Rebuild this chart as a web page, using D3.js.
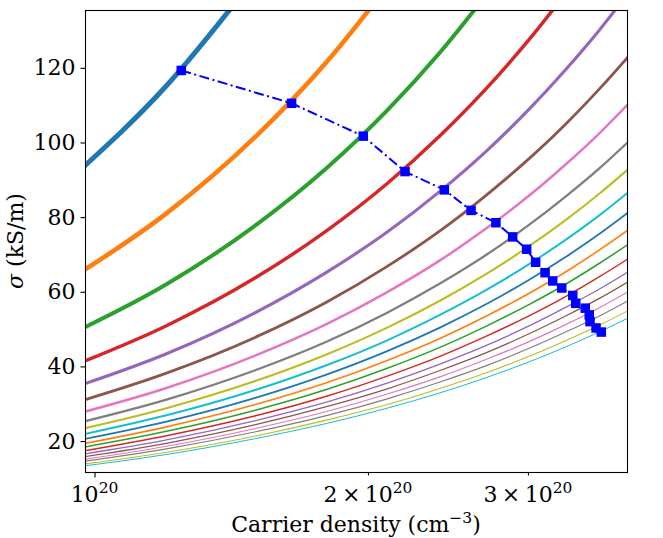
<!DOCTYPE html>
<html><head><meta charset="utf-8">
<script src="https://cdn.jsdelivr.net/npm/d3@7"></script>
<style>
body{margin:0;background:#fff}
text{font-family:"DejaVu Serif",serif}
</style>
</head><body>
<svg id="chart" width="663" height="538"></svg>
<script>
// carrier density grid (units of 1e20 cm^-3) at which each curve was read
const nGrid = [0.95, 1.2, 1.5, 1.8, 2.1, 2.4, 2.7, 3.0, 3.3, 3.6, 3.9];

// conductivity curves (kS/m) at the nGrid points
const curve01 = [91.2, 115.2, 144.0];
const curve02 = [64.1, 81.0, 101.3, 121.5, 141.8];
const curve03 = [49.1, 62.0, 77.6, 93.1, 108.6, 124.1, 139.6];
const curve04 = [40.3, 50.9, 63.6, 76.3, 89.0, 101.8, 114.5, 127.2, 139.9];
const curve05 = [34.4, 43.4, 54.3, 65.2, 76.0, 86.9, 97.7, 108.6, 119.5, 130.3, 141.2];
const curve06 = [30.2, 38.2, 47.7, 57.2, 66.8, 76.3, 85.9, 95.4, 104.9, 114.5, 124.0];
const curve07 = [27.1, 34.2, 42.8, 51.3, 59.9, 68.4, 77.0, 85.5, 94.1, 102.6, 111.2];
const curve08 = [24.6, 31.1, 38.9, 46.6, 54.4, 62.2, 69.9, 77.7, 85.5, 93.2, 101.0];
const curve09 = [22.8, 28.8, 36.0, 43.2, 50.4, 57.6, 64.8, 72.0, 79.2, 86.4, 93.6];
const curve10 = [21.3, 26.9, 33.6, 40.3, 47.0, 53.8, 60.5, 67.2, 73.9, 80.6, 87.4];
const curve11 = [20.0, 25.2, 31.5, 37.8, 44.1, 50.4, 56.7, 63.0, 69.3, 75.6, 81.9];
const curve12 = [18.8, 23.8, 29.7, 35.6, 41.6, 47.5, 53.5, 59.4, 65.3, 71.3, 77.2];
const curve13 = [17.9, 22.6, 28.2, 33.8, 39.5, 45.1, 50.8, 56.4, 62.0, 67.7, 73.3];
const curve14 = [16.9, 21.4, 26.7, 32.0, 37.4, 42.7, 48.1, 53.4, 58.7, 64.1, 69.4];
const curve15 = [16.1, 20.3, 25.4, 30.4, 35.5, 40.6, 45.6, 50.7, 55.8, 60.8, 65.9];
const curve16 = [15.4, 19.4, 24.3, 29.2, 34.0, 38.9, 43.7, 48.6, 53.5, 58.3, 63.2];
const curve17 = [14.7, 18.6, 23.3, 27.9, 32.6, 37.2, 41.9, 46.5, 51.2, 55.8, 60.5];
const curve18 = [14.2, 17.9, 22.4, 26.8, 31.3, 35.8, 40.2, 44.7, 49.2, 53.6, 58.1];
const curve19 = [13.5, 17.0, 21.3, 25.6, 29.8, 34.1, 38.3, 42.6, 46.9, 51.1, 55.4];
const curve20 = [13.0, 16.4, 20.6, 24.7, 28.8, 32.9, 37.0, 41.1, 45.2, 49.3, 53.4];
const curves = [curve01, curve02, curve03, curve04, curve05, curve06, curve07, curve08, curve09, curve10,
                curve11, curve12, curve13, curve14, curve15, curve16, curve17, curve18, curve19, curve20];

// highlighted points (blue squares, dash-dot)
const markerN = [1.246, 1.648, 1.976, 2.197, 2.427, 2.597, 2.766, 2.886, 2.990, 3.059,
                 3.133, 3.194, 3.268, 3.361, 3.386, 3.469, 3.504, 3.511, 3.565, 3.613];
const markerSigma = [119.3, 110.5, 101.7, 92.2, 87.3, 81.8, 78.5, 74.7, 71.4, 67.9,
                     65.1, 62.9, 61.0, 59.0, 56.9, 55.6, 53.8, 52.0, 50.3, 49.2];

// ticks
const yTicks = [20, 40, 60, 80, 100, 120];
const xTicks = [1, 2, 3];            // ×1e20
const xTickMantissa = ["", "2", "3"];

// styling (not data)
const palette = ["#1f77b4","#ff7f0e","#2ca02c","#d62728","#9467bd","#8c564b","#e377c2","#7f7f7f","#bcbd22","#17becf"];
const widths = [5.0, 4.6, 4.0, 3.5, 3.1, 2.8, 2.5, 2.3, 2.1, 1.95, 1.8, 1.65, 1.55, 1.45, 1.35, 1.27, 1.2, 1.13, 1.07, 1.0];

const svg = d3.select("#chart");
const L = 85, R = 627, T = 10, B = 472;
const x = d3.scaleLog().domain([0.9762, 3.856]).range([L, R]);
const y = d3.scaleLinear().domain([11.7, 135.5]).range([B, T]);

svg.append("defs").append("clipPath").attr("id", "clip")
  .append("rect").attr("x", L).attr("y", T).attr("width", R - L).attr("height", B - T);

const plot = svg.append("g").attr("clip-path", "url(#clip)");
const line = d3.line().x(d => x(d[0])).y(d => y(d[1])).curve(d3.curveMonotoneX);

curves.forEach((c, i) => {
  const pts = c.map((v, j) => [nGrid[j], v]);
  plot.append("path").attr("d", line(pts)).attr("fill", "none")
    .attr("stroke", palette[i % 10]).attr("stroke-width", widths[i]);
});

const mpts = markerN.map((n, i) => [n, markerSigma[i]]);
plot.append("path")
  .attr("d", d3.line().x(d => x(d[0])).y(d => y(d[1]))(mpts))
  .attr("fill", "none").attr("stroke", "#0000ff").attr("stroke-width", 2)
  .attr("stroke-dasharray", "10,3.5,2,3.5");
plot.selectAll("rect.m").data(mpts).enter().append("rect").attr("class", "m")
  .attr("x", d => x(d[0]) - 4.75).attr("y", d => y(d[1]) - 4.75)
  .attr("width", 9.5).attr("height", 9.5).attr("fill", "#0000ff");

// frame
svg.append("rect").attr("x", L + 0.5).attr("y", T + 0.5).attr("width", R - L).attr("height", B - T)
  .attr("fill", "none").attr("stroke", "#000").attr("stroke-width", 1.1);

// y axis
const yAxis = svg.append("g").attr("transform", `translate(${L + 0.5},0)`)
  .call(d3.axisLeft(y).tickValues(yTicks).tickSize(5).tickPadding(5).tickFormat(d3.format("d")));
yAxis.select(".domain").remove();
yAxis.selectAll("line").attr("stroke", "#000").attr("stroke-width", 1.1);
yAxis.selectAll("text").attr("font-size", 22).attr("font-family", "DejaVu Serif").attr("fill", "#000");

// x axis
const xAxis = svg.append("g").attr("transform", `translate(0,${B + 0.5})`)
  .call(d3.axisBottom(x).tickValues(xTicks).tickSize(5).tickFormat(() => ""));
xAxis.select(".domain").remove();
xAxis.selectAll("line").attr("stroke", "#000").attr("stroke-width", 1.1)
  .attr("y2", (d, i) => i === 0 ? 5 : 3);
xAxis.selectAll("text").remove();
xTicks.forEach((t, i) => {
  const tx = svg.append("text").attr("x", x(t)).attr("y", 502)
    .attr("text-anchor", "middle").attr("font-size", 22).attr("fill", "#000");
  if (xTickMantissa[i]) tx.append("tspan").text(xTickMantissa[i] + "\u2009\u00d7\u2009");
  tx.append("tspan").text("10");
  tx.append("tspan").attr("font-size", 15.5).attr("dy", -9).text("20");
});

// axis labels
const xl = svg.append("text").attr("x", (L + R) / 2).attr("y", 532)
  .attr("text-anchor", "middle").attr("font-size", 22).attr("fill", "#000");
xl.append("tspan").text("Carrier density (cm");
xl.append("tspan").attr("font-size", 15.5).attr("dy", -9).text("\u22123");
xl.append("tspan").attr("dy", 9).text(")");

const yl = svg.append("text").attr("transform", `translate(23,${(T + B) / 2}) rotate(-90)`)
  .attr("text-anchor", "middle").attr("font-size", 22).attr("fill", "#000");
yl.append("tspan").attr("font-style", "italic").text("\u03c3");
yl.append("tspan").text(" (kS/m)");
</script>
</body></html>
